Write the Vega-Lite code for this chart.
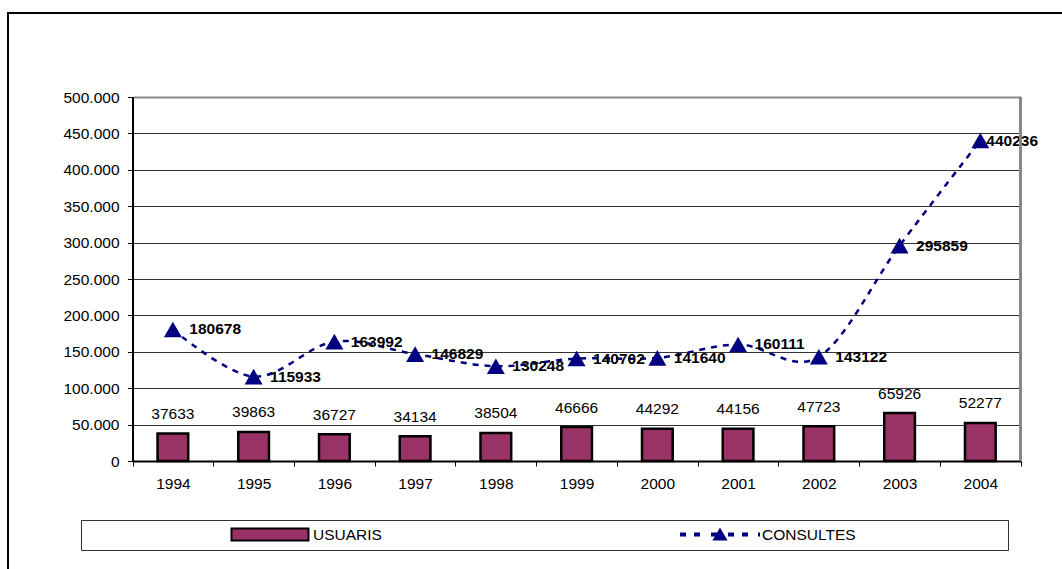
{
  "$schema": "https://vega.github.io/schema/vega-lite/v6.json",
  "width": 1064,
  "height": 566,
  "autosize": "none",
  "padding": {"left": 8, "top": 13, "right": -10, "bottom": -10},
  "background": "white",
  "config": {
    "view": {"stroke": "black", "strokeWidth": 2, "fill": "white"},
    "font": "Liberation Sans",
    "text": {"font": "Liberation Sans", "fontSize": 15.5, "color": "black"}
  },
  "data": {
    "values": [
      {"year": "1994", "usuaris": 37633, "consultes": 180678},
      {"year": "1995", "usuaris": 39863, "consultes": 115933},
      {"year": "1996", "usuaris": 36727, "consultes": 163992},
      {"year": "1997", "usuaris": 34134, "consultes": 146829},
      {"year": "1998", "usuaris": 38504, "consultes": 130248},
      {"year": "1999", "usuaris": 46666, "consultes": 140702},
      {"year": "2000", "usuaris": 44292, "consultes": 141640},
      {"year": "2001", "usuaris": 44156, "consultes": 160111},
      {"year": "2002", "usuaris": 47723, "consultes": 143122},
      {"year": "2003", "usuaris": 65926, "consultes": 295859},
      {"year": "2004", "usuaris": 52277, "consultes": 440236}
    ]
  },
  "encoding": {
    "x": {
      "field": "year",
      "type": "ordinal",
      "scale": {"range": [124.5, 1012.7], "paddingInner": 0, "paddingOuter": 0},
      "axis": {
        "orient": "bottom",
        "offset": -118,
        "title": null,
        "labelAngle": 0,
        "tickBand": "extent",
        "tickSize": 5,
        "tickColor": "black",
        "domainColor": "black",
        "domainWidth": 2,
        "labelPadding": 10,
        "labelFont": "Liberation Sans",
        "labelFontSize": 15.5,
        "labelColor": "black",
        "grid": false
      }
    }
  },
  "layer": [
    {
      "mark": {"type": "bar", "stroke": "black", "strokeWidth": 2.5, "width": {"band": 0.38}},
      "encoding": {
        "y": {
          "field": "usuaris",
          "type": "quantitative",
          "scale": {"domain": [0, 500000], "range": [448, 84], "nice": false},
          "axis": {
            "orient": "left",
            "offset": -124.5,
            "title": null,
            "values": [0, 50000, 100000, 150000, 200000, 250000, 300000, 350000, 400000, 450000, 500000],
            "labelExpr": "replace(format(datum.value, ','), ',', '.')",
            "tickSize": 5,
            "tickColor": "black",
            "domainColor": "black",
            "domainWidth": 2,
            "labelPadding": 8.5,
            "labelFont": "Liberation Sans",
            "labelFontSize": 15.5,
            "labelColor": "black",
            "grid": true,
            "gridColor": {"condition": {"test": "datum.value === 500000", "value": "#888888"}, "value": "#333333"},
            "gridWidth": {"condition": {"test": "datum.value === 500000", "value": 2}, "value": 1}
          }
        },
        "color": {
          "datum": "USUARIS",
          "type": "nominal",
          "scale": {"domain": ["USUARIS"], "range": ["#993366"]},
          "legend": {
            "orient": "none",
            "legendX": 73,
            "legendY": 507,
            "direction": "horizontal",
            "title": "\u00a0",
            "titleOrient": "right",
            "titlePadding": 620,
            "titleFontSize": 15.5,
            "padding": 6.5,
            "strokeColor": "#333333",
            "symbolType": "M-0.9625,-0.15H0.9625V0.15H-0.9625Z",
            "symbolSize": 6400,
            "symbolStrokeColor": "black",
            "symbolStrokeWidth": 2,
            "symbolOpacity": 1,
            "symbolOffset": 141.5,
            "clipHeight": 16,
            "labelOffset": 2,
            "labelFont": "Liberation Sans",
            "labelFontSize": 15.5,
            "labelColor": "black"
          }
        }
      }
    },
    {
      "mark": {"type": "text", "baseline": "alphabetic", "dy": -14.5, "fontSize": 15.5, "color": "black"},
      "encoding": {
        "y": {"field": "usuaris", "type": "quantitative"},
        "text": {"field": "usuaris", "type": "quantitative", "format": "d"}
      }
    },
    {
      "mark": {"type": "line", "interpolate": "cardinal", "strokeDash": [6, 6], "strokeWidth": 2.5, "color": "#000080"},
      "encoding": {
        "y": {"field": "consultes", "type": "quantitative"}
      }
    },
    {
      "mark": {"type": "point", "shape": "triangle-up", "filled": true, "size": 324, "color": "#000080"},
      "encoding": {
        "y": {"field": "consultes", "type": "quantitative"},
        "opacity": {
          "datum": "CONSULTES",
          "type": "ordinal",
          "scale": {"domain": ["CONSULTES"], "range": [1, 1]},
          "legend": {
            "orient": "none",
            "legendX": 664.5,
            "legendY": 507,
            "direction": "horizontal",
            "title": null,
            "padding": 6.5,
            "symbolType": "M-1,-0.05H-0.85V0.05H-1Z M-0.65,-0.05H-0.5V0.05H-0.65Z M-0.225,-0.05H-0.075V0.05H-0.225Z M0.2,-0.05H0.35V0.05H0.2Z M0.55,-0.05H0.7V0.05H0.55Z M0.95,-0.05H1V0.05H0.95Z M0,-0.175L0.19,0.15L-0.19,0.15Z",
            "symbolSize": 6400,
            "symbolFillColor": "#000080",
            "symbolStrokeColor": "transparent",
            "symbolStrokeWidth": 2,
            "clipHeight": 16,
            "labelOffset": 1,
            "labelFont": "Liberation Sans",
            "labelFontSize": 15.5,
            "labelColor": "black"
          }
        }
      }
    },
    {
      "transform": [{"filter": "datum.year !== '2004'"}],
      "mark": {"type": "text", "align": "left", "baseline": "middle", "dx": 16.5, "fontWeight": "bold", "fontSize": 15.5, "color": "black"},
      "encoding": {
        "y": {"field": "consultes", "type": "quantitative"},
        "text": {"field": "consultes", "type": "quantitative", "format": "d"}
      }
    },
    {
      "transform": [{"filter": "datum.year === '2004'"}],
      "mark": {"type": "text", "align": "left", "baseline": "middle", "dx": 6, "fontWeight": "bold", "fontSize": 15.5, "color": "black"},
      "encoding": {
        "y": {"field": "consultes", "type": "quantitative"},
        "text": {"field": "consultes", "type": "quantitative", "format": "d"}
      }
    },
    {
      "mark": {"type": "rule", "color": "#888888", "strokeWidth": 2},
      "encoding": {
        "x": {"datum": "2004", "bandPosition": 1},
        "y": {"datum": 0},
        "y2": {"datum": 500000}
      }
    }
  ]
}
